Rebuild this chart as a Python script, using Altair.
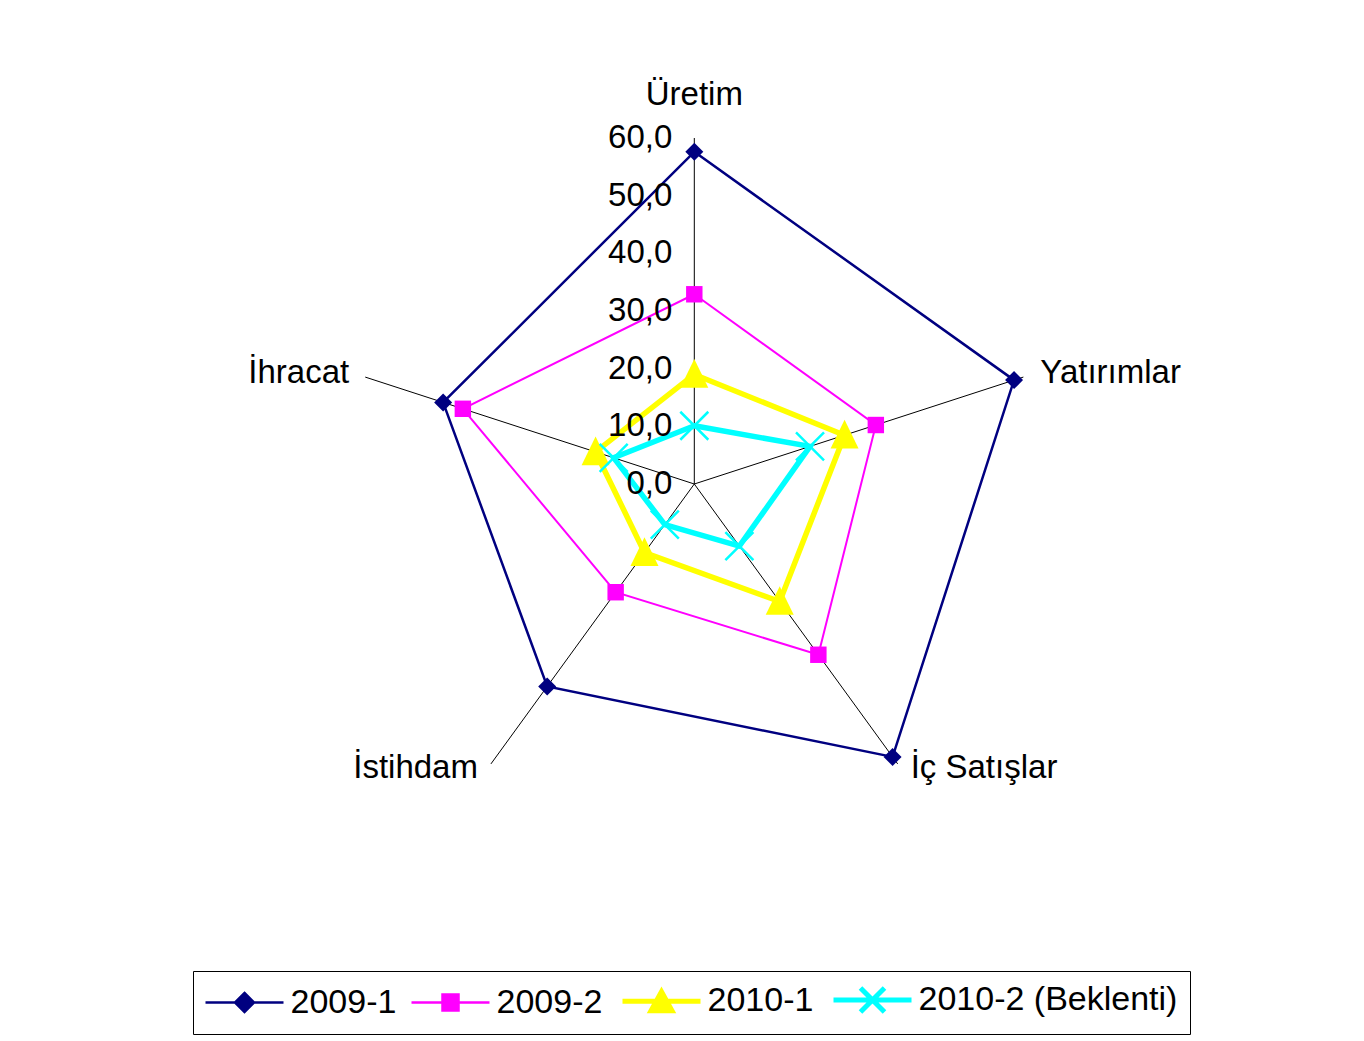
import altair as alt
import pandas as pd

# ---------------- data ----------------
categories = ["Üretim", "Yatırımlar", "İç Satışlar", "İstihdam", "İhracat"]
series_names = ["2009-1", "2009-2", "2010-1", "2010-2 (Beklenti)"]
v_2009_1 = [57.6, 58.3, 58.5, 43.4, 45.8]
v_2009_2 = [32.9, 33.1, 36.6, 23.2, 42.2]
v_2010_1 = [19.0, 27.4, 25.2, 14.7, 18.0]
v_2010_2 = [10.1, 21.1, 13.3, 8.7, 14.7]
tick_values = [0, 10, 20, 30, 40, 50, 60]
tick_labels = [f"{v:.1f}".replace(".", ",") for v in tick_values]
r_max = 60

series_values = [v_2009_1, v_2009_2, v_2010_1, v_2010_2]

# ---------------- styles ----------------
FONT = "Liberation Sans"
FS = 33
colors = ["#000080", "#FF00FF", "#FFFF00", "#00FFFF"]
line_widths = [2.5, 2, 5.5, 5.5]
legend_widths = [2.5, 2.5, 5, 5]
legend_paths = [
    "M-3.9,0H3.9M0,-0.95L0.95,0L0,0.95L-0.95,0Z",
    "M-3.9,0H3.9M-0.8,-0.8H0.8V0.8H-0.8Z",
    "M-3.9,0H3.9M0,-0.95L1.05,0.95H-1.05Z",
    "M-3.9,0H3.9M-1.2,-1.2L1.2,1.2M-1.2,1.2L1.2,-1.2",
]

W, H = 1348, 1030
CX, CY = 686.3, 476.0       # centre of the radar in view pixels
PX = 346.0 / r_max          # pixels per unit
xs = alt.Scale(domain=[-CX / PX, (W - CX) / PX], nice=False, zero=False)
ys = alt.Scale(domain=[-(H - CY) / PX, CY / PX], nice=False, zero=False)

rows = []
for name, vals in zip(series_names, series_values):
    for i, (c, v) in enumerate(zip(categories, vals)):
        rows.append({"series": name, "category": c, "idx": i, "value": v})
df = pd.DataFrame(rows)
df_cat = pd.DataFrame({"category": categories, "idx": list(range(len(categories))), "r": r_max})
df_ticks = pd.DataFrame({"value": tick_values, "label": tick_labels})

N = len(categories)
polar = dict(
    px=f"datum.value*sin(2*PI*datum.idx/{N})",
    py=f"datum.value*cos(2*PI*datum.idx/{N})",
)

X = lambda f: alt.X(f, scale=xs, axis=None)
Y = lambda f: alt.Y(f, scale=ys, axis=None)

layers = []

# spokes
spokes = alt.Chart(df_cat).transform_calculate(
    ex=f"datum.r*sin(2*PI*datum.idx/{N})",
    ey=f"datum.r*cos(2*PI*datum.idx/{N})",
    zero="0",
).mark_rule(color="black", strokeWidth=1).encode(
    x=X("zero:Q"), y=Y("zero:Q"), x2="ex:Q", y2="ey:Q"
)
layers.append(spokes)

# series lines
for name, col, w in zip(series_names, colors, line_widths):
    layers.append(
        alt.Chart(df).transform_filter(alt.datum.series == name)
        .transform_calculate(**polar)
        .mark_line(interpolate="linear-closed", color=col, strokeWidth=w)
        .encode(x=X("px:Q"), y=Y("py:Q"), order="idx:Q")
    )

# markers
marker_styles = [
    dict(shape="diamond", filled=True, size=324, color=colors[0], opacity=1),
    dict(shape="square", filled=True, size=270, color=colors[1], opacity=1),
    dict(shape="M0,-1.1L1,0.95L-1,0.95Z", filled=True, size=784, color=colors[2], opacity=1),
    dict(shape="M-1,-1L1,1M-1,1L1,-1", filled=False, size=784, color=colors[3],
         strokeWidth=2.5, opacity=1),
]
for name, st in zip(series_names, marker_styles):
    layers.append(
        alt.Chart(df).transform_filter(alt.datum.series == name)
        .transform_calculate(**polar)
        .mark_point(**st)
        .encode(x=X("px:Q"), y=Y("py:Q"))
    )

# tick labels
layers.append(
    alt.Chart(df_ticks).transform_calculate(zero="0")
    .mark_text(align="right", baseline="middle", dx=-22, font=FONT, fontSize=FS, color="black")
    .encode(x=X("zero:Q"), y=Y("value:Q"), text="label:N")
)

# category labels
label_styles = [
    dict(align="center", dx=0, dy=-43),
    dict(align="left", dx=17, dy=-4),
    dict(align="left", dx=13, dy=4),
    dict(align="right", dx=-13, dy=4),
    dict(align="right", dx=-16, dy=-4),
]
for cat, st in zip(categories, label_styles):
    layers.append(
        alt.Chart(df_cat).transform_filter(alt.datum.category == cat)
        .transform_calculate(
            ex=f"datum.r*sin(2*PI*datum.idx/{N})",
            ey=f"datum.r*cos(2*PI*datum.idx/{N})",
        )
        .mark_text(baseline="middle", font=FONT, fontSize=FS, color="black", **st)
        .encode(x=X("ex:Q"), y=Y("ey:Q"), text="category:N")
    )

# legend (scales only; no marks drawn)
leg = dict(
    title=None, orient="none", legendX=185, legendY=963, direction="horizontal",
    labelFont=FONT, labelFontSize=34, labelColor="black", labelLimit=600,
    symbolSize=400, symbolOffset=22.5, labelOffset=29, columnPadding=9,
    padding=12, strokeColor="black", fillColor="white", cornerRadius=0,
)
legend_layer = (
    alt.Chart(df).transform_filter("false").transform_calculate(**polar)
    .mark_point(filled=True, opacity=1)
    .encode(
        x=X("px:Q"), y=Y("py:Q"),
        fill=alt.Fill("series:N", scale=alt.Scale(domain=series_names, range=colors), legend=alt.Legend(**leg)),
        stroke=alt.Stroke("series:N", scale=alt.Scale(domain=series_names, range=colors), legend=alt.Legend(**leg)),
        shape=alt.Shape("series:N", scale=alt.Scale(domain=series_names, range=legend_paths), legend=alt.Legend(**leg)),
        strokeWidth=alt.StrokeWidth("series:N", scale=alt.Scale(type="ordinal", domain=series_names, range=legend_widths), legend=alt.Legend(**leg)),
    )
)
layers.append(legend_layer)

chart = alt.layer(*layers).properties(
    width=W, height=H, padding=0, autosize=alt.AutoSizeParams(type="none"),
    background="white",
).configure_view(stroke=None)

chart.save("out.html", embed_options={"renderer": "svg", "actions": False})
